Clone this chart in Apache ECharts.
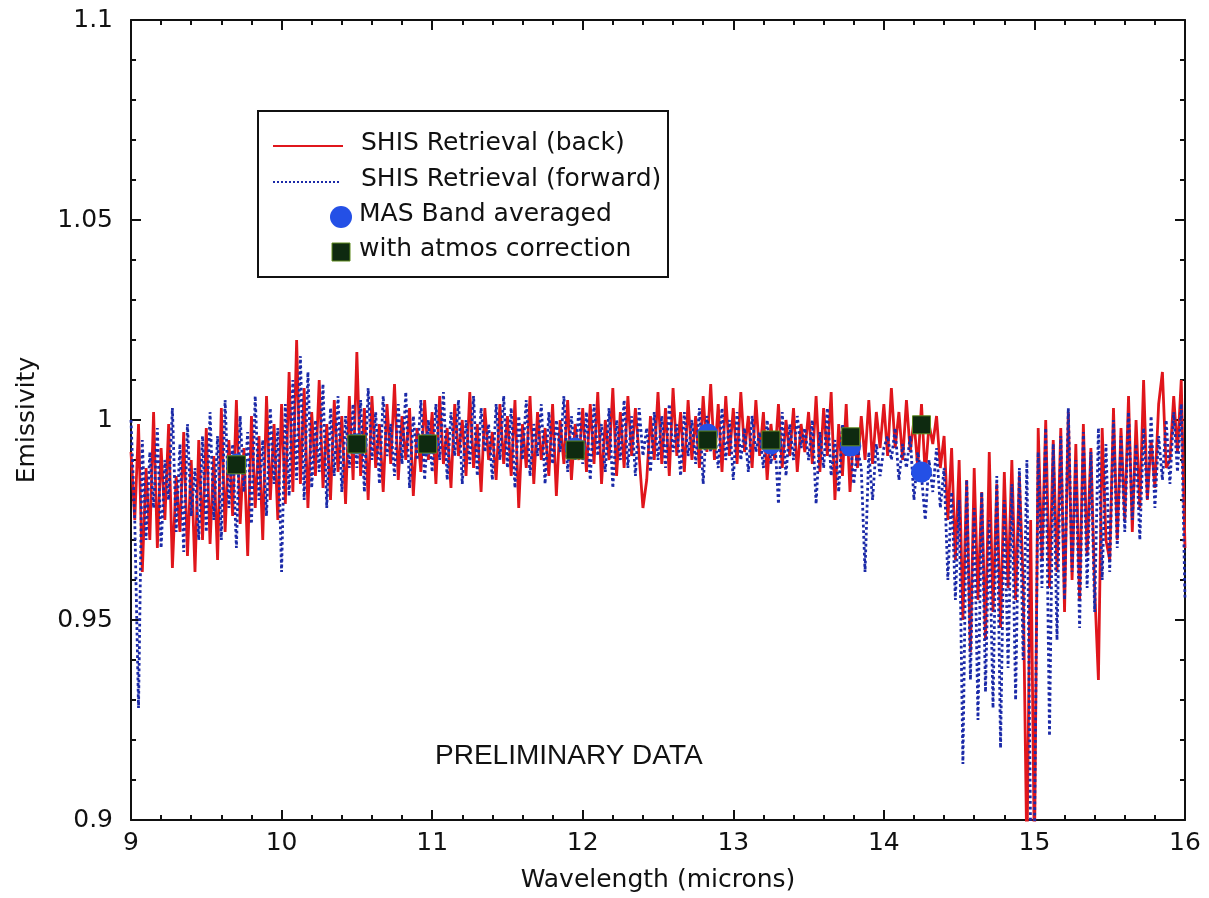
<!DOCTYPE html>
<html>
<head>
<meta charset="utf-8">
<title>Emissivity</title>
<script src="https://cdn.jsdelivr.net/npm/echarts@6/dist/echarts.min.js"></script>
<style>
  html, body { margin: 0; padding: 0; background: #fff; }
  #chart { width: 1209px; height: 898px; }
</style>
</head>
<body>
<div id="chart"></div>
<script>
// ------------------------------------------------------------
// DATA
// spectra are sampled every 0.025 micron from 9.0 to 16.0
// ------------------------------------------------------------
const sampleStart = 9.0;
const sampleStep = 0.025;

// SHIS Retrieval (back) — red solid
const backRetrieval = [
  0.992, 0.975, 0.999, 0.962, 0.988, 0.970, 1.002, 0.968, 0.993, 0.975, 0.999, 0.963, 0.986, 0.972, 0.997, 0.966, 0.990, 0.962, 0.995, 0.970,
  0.998, 0.969, 0.991, 0.965, 1.003, 0.972, 0.995, 0.976, 1.005, 0.974, 0.993, 0.966, 1.001, 0.978, 0.996, 0.970, 1.006, 0.980, 0.999, 0.975,
  1.004, 0.979, 1.012, 0.982, 1.020, 0.984, 1.008, 0.978, 1.002, 0.986, 1.010, 0.983, 0.999, 0.980, 1.005, 0.987, 1.001, 0.979, 1.006, 0.985,
  1.017, 0.986, 1.003, 0.980, 1.006, 0.988, 0.999, 0.982, 1.004, 0.989, 1.009, 0.985, 1.001, 0.990, 1.003, 0.981, 0.998, 0.987, 1.005, 0.990,
  1.002, 0.984, 1.006, 0.989, 0.998, 0.983, 1.004, 0.991, 1.000, 0.986, 1.007, 0.988, 0.999, 0.982, 1.003, 0.990, 0.997, 0.985, 1.004, 0.989,
  1.001, 0.986, 1.005, 0.978, 0.999, 0.988, 1.006, 0.984, 1.002, 0.990, 0.998, 0.986, 1.004, 0.981, 1.000, 0.989, 1.005, 0.985, 0.999, 0.990,
  1.003, 0.987, 1.004, 0.989, 1.007, 0.984, 1.000, 0.990, 1.008, 0.986, 1.002, 0.988, 1.006, 0.991, 1.003, 0.991, 0.978, 0.985, 1.001, 0.990,
  1.007, 0.989, 1.003, 0.986, 1.008, 0.991, 1.002, 0.987, 1.005, 0.990, 1.001, 0.988, 1.006, 0.992, 1.009, 0.990, 1.004, 0.987, 1.006, 0.991,
  1.003, 0.989, 1.007, 0.992, 1.001, 0.988, 1.005, 0.991, 1.002, 0.985, 0.999, 0.990, 1.004, 0.988, 1.000, 0.991, 1.003, 0.987, 0.999, 0.992,
  1.002, 0.989, 1.006, 0.987, 1.003, 0.991, 1.007, 0.980, 0.999, 0.986, 1.004, 0.982, 0.997, 0.988, 1.001, 0.990, 1.005, 0.989, 1.002, 0.993,
  1.004, 0.991, 1.008, 0.993, 1.002, 0.990, 1.005, 0.992, 1.000, 0.988, 1.004, 0.986, 0.999, 0.994, 1.001, 0.988, 0.996, 0.975, 0.993, 0.965,
  0.990, 0.950, 0.985, 0.942, 0.988, 0.955, 0.982, 0.945, 0.992, 0.952, 0.984, 0.948, 0.987, 0.958, 0.990, 0.955, 0.986, 0.960, 0.890, 0.975,
  0.890, 0.998, 0.965, 1.000, 0.958, 0.995, 0.962, 0.998, 0.952, 1.002, 0.960, 0.994, 0.955, 0.999, 0.966, 0.993, 0.958, 0.935, 0.998, 0.970,
  0.965, 1.003, 0.970, 0.998, 0.975, 1.006, 0.972, 1.000, 0.978, 1.010, 0.980, 0.995, 0.983, 1.004, 1.012, 0.988, 0.990, 1.006, 0.992, 1.010,
  0.968
];

// SHIS Retrieval (forward) — blue dotted
const forwardRetrieval = [
  1.000, 0.975, 0.928, 0.995, 0.970, 0.992, 0.978, 0.998, 0.968, 0.990, 0.980, 1.003, 0.972, 0.994, 0.967, 0.999, 0.976, 0.988, 0.970, 0.996,
  0.972, 1.002, 0.975, 0.996, 0.970, 1.005, 0.978, 0.994, 0.968, 1.001, 0.982, 0.997, 0.974, 1.006, 0.980, 0.995, 0.976, 1.003, 0.984, 0.998,
  0.962, 1.004, 0.981, 1.010, 0.985, 1.016, 0.980, 1.012, 0.983, 1.000, 0.987, 1.009, 0.978, 1.003, 0.986, 1.006, 0.982, 1.001, 0.988, 1.004,
  0.988, 1.005, 0.982, 1.008, 0.990, 1.002, 0.984, 1.006, 0.991, 0.999, 0.986, 1.004, 0.989, 1.007, 0.983, 1.001, 0.990, 1.005, 0.985, 1.000,
  0.987, 1.004, 0.990, 1.007, 0.985, 1.002, 0.991, 1.005, 0.984, 1.000, 0.989, 1.006, 0.986, 1.003, 0.992, 0.999, 0.985, 1.004, 0.990, 1.006,
  0.988, 1.003, 0.983, 1.001, 0.990, 1.005, 0.986, 0.999, 0.991, 1.004, 0.984, 1.002, 0.989, 1.000, 0.992, 1.006, 0.987, 1.001, 0.990, 1.003,
  0.989, 1.002, 0.985, 1.004, 0.991, 0.999, 0.987, 1.003, 0.983, 1.000, 0.990, 1.005, 0.988, 1.001, 0.986, 1.003, 0.991, 0.998, 0.987, 1.002,
  0.990, 1.001, 0.988, 1.004, 0.992, 0.999, 0.986, 1.002, 0.991, 1.000, 0.989, 1.003, 0.984, 1.001, 0.992, 0.998, 0.988, 1.003, 0.990, 1.000,
  0.985, 1.002, 0.990, 0.998, 0.987, 1.001, 0.992, 0.997, 0.988, 1.000, 0.989, 0.996, 0.979, 1.002, 0.986, 0.999, 0.990, 1.001, 0.993, 0.998,
  0.990, 1.000, 0.979, 0.997, 0.988, 1.003, 0.986, 0.995, 0.982, 0.999, 0.991, 0.996, 0.984, 0.993, 0.988, 0.962, 0.992, 0.980, 0.994, 0.986,
  0.993, 0.996, 0.990, 0.998, 0.985, 0.994, 0.988, 0.996, 0.980, 0.992, 0.986, 0.975, 0.990, 0.982, 0.993, 0.978, 0.988, 0.960, 0.982, 0.955,
  0.980, 0.914, 0.985, 0.935, 0.978, 0.925, 0.982, 0.932, 0.975, 0.928, 0.986, 0.918, 0.980, 0.938, 0.984, 0.930, 0.988, 0.940, 0.990, 0.895,
  0.895, 0.992, 0.958, 0.998, 0.921, 0.994, 0.945, 0.996, 0.955, 1.003, 0.962, 0.990, 0.948, 0.997, 0.958, 0.992, 0.952, 0.998, 0.960, 0.994,
  0.962, 1.000, 0.968, 0.996, 0.972, 1.002, 0.975, 0.994, 0.970, 0.998, 0.980, 1.001, 0.978, 0.996, 0.985, 1.000, 0.984, 1.002, 0.987, 1.004,
  0.955
];

// MAS band centres (microns) and the two MAS estimates
const masBands = [9.7, 10.5, 10.97, 11.95, 12.83, 13.25, 13.78, 14.25];
const masBandAveraged = [0.989, 0.994, 0.994, 0.993, 0.9965, 0.994, 0.9935, 0.987];
const withAtmosCorrection = [0.9888, 0.994, 0.994, 0.9925, 0.995, 0.995, 0.9958, 0.9988];

const yTicks = [0.9, 0.95, 1, 1.05, 1.1];


// ------------------------------------------------------------
// BUILD
// ------------------------------------------------------------
const FONT = 'DejaVu Sans';
const INK = '#111';
const RED = '#e0161c';
const BLUE = '#1b2aa8';

function toPairs(values) {
  return values.map(function(v, i) {
    return [+(sampleStart + i * sampleStep).toFixed(3), v];
  });
}

function pointPairs(xs, ys) {
  return xs.map(function(x, i) { return [x, ys[i]]; });
}

const axisLine = { show: true, onZero: false, lineStyle: { color: INK, width: 2 } };
const tickStyle = { inside: true, length: 10, lineStyle: { color: INK, width: 2 } };
const minorStyle = { show: true, splitNumber: 5, length: 5, lineStyle: { color: INK, width: 2 } };

const chart = echarts.init(document.getElementById('chart'));

chart.setOption({
  animation: false,
  backgroundColor: '#fff',
  grid: { left: 131, top: 20, right: 24, bottom: 78, containLabel: false },
  xAxis: [
    {
      type: 'value', min: 9, max: 16, interval: 1, position: 'bottom',
      axisLine: axisLine, axisTick: tickStyle, minorTick: minorStyle,
      splitLine: { show: false },
      axisLabel: { margin: 11, fontFamily: FONT, fontSize: 25, color: INK },
      name: 'Wavelength (microns)', nameLocation: 'middle', nameGap: 48,
      nameTextStyle: { fontFamily: FONT, fontSize: 25, color: INK }
    },
    {
      type: 'value', min: 9, max: 16, interval: 1, position: 'top',
      axisLine: axisLine, axisTick: tickStyle, minorTick: minorStyle,
      splitLine: { show: false },
      axisLabel: { show: false }
    }
  ],
  yAxis: [
    {
      type: 'value', min: 0.9, max: 1.1, interval: 0.05, position: 'left',
      axisLine: axisLine, axisTick: tickStyle, minorTick: minorStyle,
      splitLine: { show: false },
      axisLabel: {
        margin: 18, fontFamily: FONT, fontSize: 25, color: INK,
        formatter: function(v) {
          const hit = yTicks.find(function(t) { return Math.abs(t - v) < 1e-6; });
          return hit === undefined ? '' : String(hit);
        }
      },
      name: 'Emissivity', nameLocation: 'middle', nameGap: 91, nameRotate: 90,
      nameTextStyle: { fontFamily: FONT, fontSize: 25, color: INK }
    },
    {
      type: 'value', min: 0.9, max: 1.1, interval: 0.05, position: 'right',
      axisLine: axisLine, axisTick: tickStyle, minorTick: minorStyle,
      splitLine: { show: false },
      axisLabel: { show: false }
    }
  ],
  series: [
    {
      name: 'SHIS Retrieval (back)', type: 'line', data: toPairs(backRetrieval),
      showSymbol: false, symbol: 'none', clip: true, z: 2,
      lineStyle: { color: RED, width: 2.8 }
    },
    {
      name: 'SHIS Retrieval (forward)', type: 'line', data: toPairs(forwardRetrieval),
      showSymbol: false, symbol: 'none', clip: true, z: 3,
      lineStyle: { color: BLUE, width: 2.8, type: 'dotted' }
    },
    {
      name: 'MAS Band averaged', type: 'scatter', data: pointPairs(masBands, masBandAveraged),
      symbol: 'circle', symbolSize: 21, z: 5,
      itemStyle: { color: '#2450e6', opacity: 1 }
    },
    {
      name: 'with atmos correction', type: 'scatter', data: pointPairs(masBands, withAtmosCorrection),
      symbol: 'rect', symbolSize: 18, z: 6,
      itemStyle: { color: '#0e2a10', borderColor: '#5f8a1e', borderWidth: 1, opacity: 1 }
    }
  ],
  // legend box and annotation, laid out like the original figure
  graphic: [
    { type: 'rect', shape: { x: 258, y: 111, width: 410, height: 166 },
      style: { fill: '#fff', stroke: INK, lineWidth: 2 }, z: 100 },
    { type: 'line', shape: { x1: 273, y1: 146, x2: 343, y2: 146 },
      style: { stroke: RED, lineWidth: 2 }, z: 101 },
    { type: 'text', left: 361, top: 131, z: 101,
      style: { text: 'SHIS Retrieval (back)', font: '25px "DejaVu Sans"', fill: INK } },
    { type: 'line', shape: { x1: 273, y1: 182, x2: 341, y2: 182 },
      style: { stroke: BLUE, lineWidth: 2, lineDash: [2, 2] }, z: 101 },
    { type: 'text', left: 361, top: 167, z: 101,
      style: { text: 'SHIS Retrieval (forward)', font: '25px "DejaVu Sans"', fill: INK } },
    { type: 'circle', shape: { cx: 341, cy: 217, r: 11 },
      style: { fill: '#2450e6' }, z: 101 },
    { type: 'text', left: 359, top: 202, z: 101,
      style: { text: 'MAS Band averaged', font: '25px "DejaVu Sans"', fill: INK } },
    { type: 'rect', shape: { x: 332, y: 243, width: 18, height: 18 },
      style: { fill: '#0e2a10', stroke: '#5f8a1e', lineWidth: 1 }, z: 101 },
    { type: 'text', left: 359, top: 237, z: 101,
      style: { text: 'with atmos correction', font: '25px "DejaVu Sans"', fill: INK } },
    { type: 'text', left: 435, top: 742, z: 101,
      style: { text: 'PRELIMINARY DATA', font: '28px "Liberation Sans"', fill: INK } }
  ]
});
</script>
</body>
</html>
